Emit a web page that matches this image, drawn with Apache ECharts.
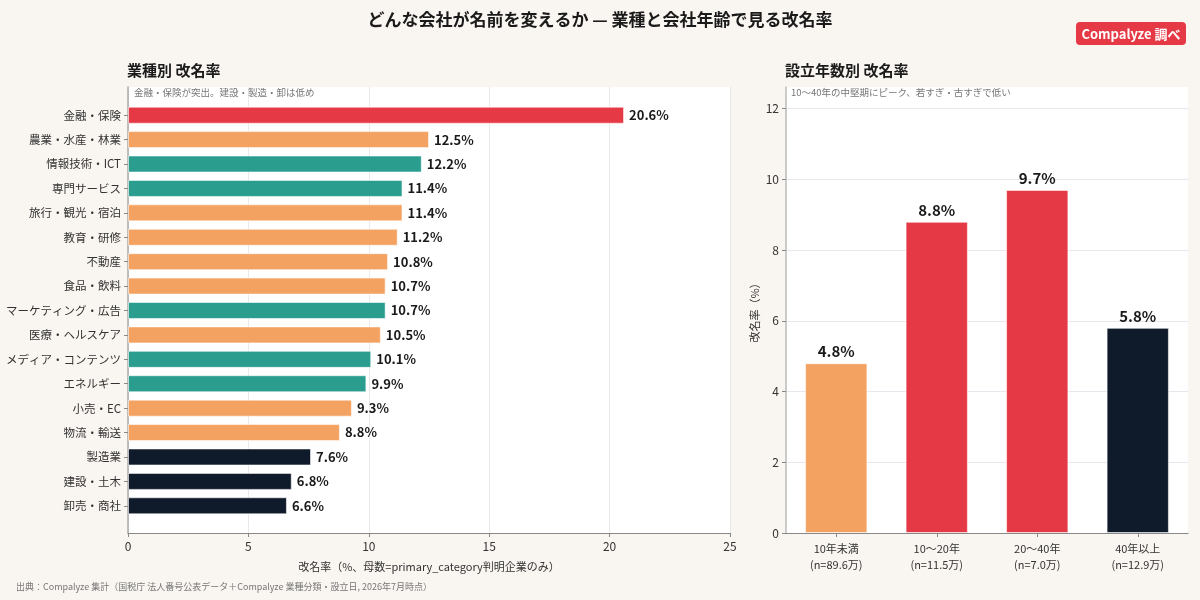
<!DOCTYPE html>
<html>
<head>
<meta charset="utf-8">
<style>
  html, body { margin: 0; padding: 0; background: #f9f5f1; }
  #chart { width: 1200px; height: 600px; }
</style>
<script src="https://cdn.jsdelivr.net/npm/echarts@6/dist/echarts.min.js"></script>
</head>
<body>
<div id="chart"></div>
<script>
// 業種別
const industries = [
  '金融・保険', '農業・水産・林業', '情報技術・ICT', '専門サービス', '旅行・観光・宿泊',
  '教育・研修', '不動産', '食品・飲料', 'マーケティング・広告', '医療・ヘルスケア',
  'メディア・コンテンツ', 'エネルギー', '小売・EC', '物流・輸送', '製造業', '建設・土木', '卸売・商社'
];
const industryRates = [20.6, 12.5, 12.2, 11.4, 11.4, 11.2, 10.8, 10.7, 10.7, 10.5, 10.1, 9.9, 9.3, 8.8, 7.6, 6.8, 6.6];
// 色グループ: top / mid / tech / low
const industryGroups = ['top', 'mid', 'tech', 'tech', 'mid', 'mid', 'mid', 'mid', 'tech', 'mid', 'tech', 'tech', 'mid', 'mid', 'low', 'low', 'low'];

// 設立年数別
const ageBands = ['10年未満\n(n=89.6万)', '10〜20年\n(n=11.5万)', '20〜40年\n(n=7.0万)', '40年以上\n(n=12.9万)'];
const ageRates = [4.8, 8.8, 9.7, 5.8];
const ageGroups = ['mid', 'top', 'top', 'low'];

const xTicks = [0, 5, 10, 15, 20, 25];

const groupColors = {
  top: '#e63946',
  mid: '#f4a261',
  tech: '#2a9d8f',
  low: '#0f1a2b'
};

const FONT = '"Noto Sans CJK JP", "Noto Sans", sans-serif';
const chart = echarts.init(document.getElementById('chart'));

const option = {
  backgroundColor: '#f9f5f1',
  textStyle: { fontFamily: FONT },
  animation: false,
  title: [
    {
      text: 'どんな会社が名前を変えるか — 業種と会社年齢で見る改名率',
      left: 'center', top: 6,
      textStyle: { fontSize: 17, fontWeight: 'bold', color: '#1a1a1a', fontFamily: FONT }
    },
    {
      text: '業種別 改名率', left: 122, top: 58,
      textStyle: { fontSize: 15, fontWeight: 'bold', color: '#1a1a1a', fontFamily: FONT }
    },
    {
      text: '設立年数別 改名率', left: 780, top: 58,
      textStyle: { fontSize: 15, fontWeight: 'bold', color: '#1a1a1a', fontFamily: FONT }
    }
  ],
  grid: [
    // 0: 業種別のバー
    { left: 128, right: 470, top: 103, bottom: 82 },
    // 1: 業種別の枠と目盛
    { left: 128, right: 470, top: 87, bottom: 67, show: true, backgroundColor: '#ffffff', borderWidth: 0 },
    // 2: 設立年数別
    { left: 786, right: 12, top: 87, bottom: 67, show: true, backgroundColor: '#ffffff', borderWidth: 0 }
  ],
  xAxis: [
    { gridIndex: 0, type: 'value', min: xTicks[0], max: xTicks[xTicks.length - 1], interval: 5, show: false },
    {
      gridIndex: 1, type: 'value', min: xTicks[0], max: xTicks[xTicks.length - 1], interval: 5,
      axisLine: { show: true, lineStyle: { color: '#888', width: 1.2 } },
      axisTick: { show: true, length: 4, lineStyle: { color: '#888' } },
      axisLabel: { color: '#333', fontSize: 12, margin: 7 },
      splitLine: { show: true, lineStyle: { color: '#ebe8ea', width: 1 } },
      name: '改名率（%、母数=primary_category判明企業のみ）',
      nameLocation: 'middle', nameGap: 28,
      nameTextStyle: { color: '#333', fontSize: 11 }
    },
    {
      gridIndex: 2, type: 'category', data: ageBands,
      axisLine: { show: true, lineStyle: { color: '#888', width: 1.2 } },
      axisTick: { show: true, alignWithLabel: true, length: 4, lineStyle: { color: '#888' } },
      axisLabel: { color: '#333', fontSize: 11, lineHeight: 16, margin: 8 }
    }
  ],
  yAxis: [
    {
      gridIndex: 0, type: 'category', data: industries, inverse: true,
      axisLine: { show: false },
      axisTick: { show: true, length: 4, alignWithLabel: true, lineStyle: { color: '#888' } },
      axisLabel: { color: '#333', fontSize: 11.5, margin: 7 }
    },
    {
      gridIndex: 1, type: 'value', min: 0, max: 1,
      axisLine: { show: true, lineStyle: { color: '#aaa', width: 1.5 } },
      axisTick: { show: false }, axisLabel: { show: false }, splitLine: { show: false }
    },
    {
      gridIndex: 2, type: 'value', min: 0, max: Math.max(...ageRates) * 1.3, interval: 2,
      axisLine: { show: true, lineStyle: { color: '#bbb', width: 1.5 } },
      axisTick: { show: true, length: 4, lineStyle: { color: '#888' } },
      axisLabel: { color: '#333', fontSize: 12, showMaxLabel: false, margin: 7 },
      splitLine: { show: true, showMaxLine: false, lineStyle: { color: '#ebe6ee', width: 1 } },
      name: '改名率（%）', nameLocation: 'middle', nameGap: 26, nameRotate: 90,
      nameTextStyle: { color: '#333', fontSize: 11 }
    }
  ],
  series: [
    {
      type: 'bar', xAxisIndex: 0, yAxisIndex: 0,
      barWidth: 17,
      data: industryRates.map((v, i) => ({
        value: v,
        itemStyle: { color: groupColors[industryGroups[i]], borderColor: 'rgba(255,255,255,0.55)', borderWidth: 1 }
      })),
      label: {
        show: true, position: 'right', distance: 5,
        formatter: p => p.value.toFixed(1) + '%',
        color: '#1a1a1a', fontWeight: 'bold', fontSize: 13
      }
    },
    {
      type: 'bar', xAxisIndex: 2, yAxisIndex: 2,
      barWidth: '62%',
      data: ageRates.map((v, i) => ({
        value: v,
        itemStyle: { color: groupColors[ageGroups[i]], borderColor: 'rgba(255,255,255,0.55)', borderWidth: 1 }
      })),
      label: {
        show: true, position: 'top', distance: 4,
        formatter: p => p.value.toFixed(1) + '%',
        color: '#1a1a1a', fontWeight: 'bold', fontSize: 15
      }
    }
  ],
  graphic: [
    {
      type: 'group', left: 1076, top: 22,
      children: [
        { type: 'rect', shape: { x: 0, y: 0, width: 110, height: 23, r: 4 }, style: { fill: '#e63946' } },
        {
          type: 'text', x: 55, y: 12,
          style: { text: 'Compalyze 調べ', fill: '#fff', font: 'bold 13px ' + FONT, align: 'center', verticalAlign: 'middle' }
        }
      ]
    },
    {
      type: 'text', left: 134, top: 88, z: 10,
      style: { text: '金融・保険が突出。建設・製造・卸は低め', fill: '#777', font: '9.5px ' + FONT }
    },
    {
      type: 'text', left: 791, top: 88, z: 10,
      style: { text: '10〜40年の中堅期にピーク、若すぎ・古すぎで低い', fill: '#777', font: '9.5px ' + FONT }
    },
    {
      type: 'text', left: 16, top: 582,
      style: { text: '出典：Compalyze 集計（国税庁 法人番号公表データ＋Compalyze 業種分類・設立日, 2026年7月時点）', fill: '#777', font: '9px ' + FONT }
    }
  ]
};

chart.setOption(option);
</script>
</body>
</html>
